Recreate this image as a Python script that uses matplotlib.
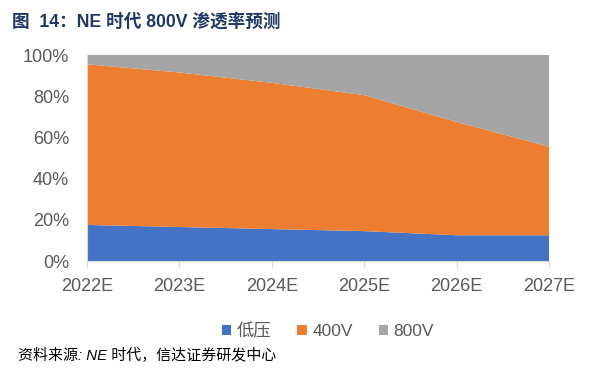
import numpy as np
import matplotlib.pyplot as plt
from matplotlib.patches import Patch

plt.rcParams['font.family'] = ['Liberation Sans', 'Noto Sans CJK SC', 'DejaVu Sans']

years = ['2022E', '2023E', '2024E', '2025E', '2026E', '2027E']
low = [17.5, 16.5, 15.5, 14.5, 12.5, 12.5]
v400 = [78.0, 75.0, 71.0, 66.0, 55.0, 43.0]
v800 = [4.5, 8.5, 13.5, 19.5, 32.5, 44.5]
names = ['低压', '400V', '800V']
colors = ['#4472C4', '#ED7D31', '#A5A5A5']

fig = plt.figure(figsize=(6.12, 3.83), dpi=100)
ax = fig.add_axes([87/612, 1-261/383, (549-87)/612, (261-55)/383])

x = np.arange(len(years))
ax.stackplot(x, low, v400, v800, colors=colors, linewidth=0)
ax.set_xlim(0, len(years)-1)
ax.set_ylim(0, 100)
ax.set_yticks(range(0, 101, 20))
ax.set_yticklabels([f'{v}%' for v in range(0, 101, 20)])
ax.set_xticks(x)
ax.set_xticklabels(years)
ax.tick_params(axis='y', length=0, labelsize=13, labelcolor='#595959', pad=13)
ax.tick_params(axis='x', length=5, color='#D9D9D9', labelsize=13, labelcolor='#595959', pad=7)
for s in ['top', 'right']:
    ax.spines[s].set_visible(False)
ax.spines['left'].set_color('#D9D9D9')
ax.spines['bottom'].set_color('#D9D9D9')

handles = [Patch(facecolor=c, edgecolor='none') for c in colors]
fig.legend(handles, names, loc='center', bbox_to_anchor=(328/612, 1-331/383), ncol=3,
           frameon=False, fontsize=12.5, labelcolor='#595959', handlelength=0.55,
           handleheight=0.55, handletextpad=0.3, columnspacing=1.5)

fig.text(12/612, 1-22/383, '图  14：NE 时代 800V 渗透率预测', fontsize=12.7, fontweight='bold',
         color='#1F3864', va='center', ha='left')
fig.text(18/612, 1-356/383, '资料来源: NE 时代，信达证券研发中心', fontsize=10.8, style='italic',
         color='black', va='center', ha='left')

fig.savefig('out.png', dpi=100)
